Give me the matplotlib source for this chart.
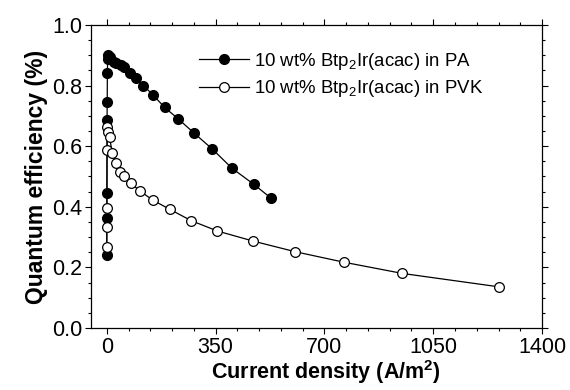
import matplotlib
matplotlib.use("Agg")
import matplotlib.pyplot as plt
from matplotlib.ticker import MultipleLocator

plt.rcParams["font.family"] = ["Liberation Sans", "DejaVu Sans"]
plt.rcParams["mathtext.fontset"] = "custom"
plt.rcParams["mathtext.rm"] = "Liberation Sans"
plt.rcParams["mathtext.bf"] = "Liberation Sans:bold"

# Dados
pa_current = [0.1, 0.3, 0.5, 1, 1.5, 2, 3, 5, 10, 23, 30, 45, 56, 75, 93,
              118, 149, 186, 230, 281, 339, 403, 473, 529]
pa_qe = [0.241, 0.363, 0.444, 0.686, 0.747, 0.840, 0.887, 0.900, 0.895, 0.879,
         0.873, 0.868, 0.862, 0.843, 0.824, 0.800, 0.769, 0.728, 0.690, 0.643,
         0.591, 0.527, 0.474, 0.428]

pvk_current = [0.1, 0.3, 0.5, 1, 2, 5, 9, 18, 29, 42, 56, 77, 107, 148, 202,
               272, 356, 470, 605, 763, 951, 1260]
pvk_qe = [0.268, 0.334, 0.396, 0.587, 0.664, 0.648, 0.629, 0.577, 0.543, 0.516,
          0.500, 0.478, 0.452, 0.422, 0.392, 0.354, 0.320, 0.287, 0.252, 0.217,
          0.180, 0.136]

labels = ["10 wt% Btp$_2$Ir(acac) in PA", "10 wt% Btp$_2$Ir(acac) in PVK"]

fig = plt.figure(figsize=(5.7, 3.9), dpi=100)
ax = fig.add_axes([0.160, 0.159, 0.791, 0.777])

ax.plot(pa_current, pa_qe, color="black", lw=0.9, marker="o", ms=7,
        mfc="black", mec="black", label=labels[0])
ax.plot(pvk_current, pvk_qe, color="black", lw=0.9, marker="o", ms=7,
        mfc="white", mec="black", mew=0.9, label=labels[1])

ax.set_xlim(-50, 1400)
ax.set_ylim(0, 1.0)
ax.xaxis.set_major_locator(MultipleLocator(350))
ax.xaxis.set_minor_locator(MultipleLocator(70))
ax.yaxis.set_major_locator(MultipleLocator(0.2))
ax.yaxis.set_minor_locator(MultipleLocator(0.05))
ax.yaxis.set_major_formatter(matplotlib.ticker.FormatStrFormatter("%.1f"))
ax.tick_params(which="both", direction="out", top=True, right=True,
               labelsize=15.5, width=0.8)
ax.tick_params(which="major", length=4, pad=2.5)
ax.tick_params(which="minor", length=2.5)
for s in ax.spines.values():
    s.set_linewidth(0.9)

ax.set_xlabel("Current density (A/m$^\\mathbf{2}$)", fontsize=15.5,
              fontweight="bold", labelpad=1)
ax.xaxis.set_label_coords(0.52, -0.1)
ax.set_ylabel("Quantum efficiency (%)", fontsize=16.5, fontweight="bold",
              labelpad=3)

ax.legend(loc="upper left", bbox_to_anchor=(0.218, 0.945), frameon=False,
          fontsize=13.4, handlelength=2.7, handletextpad=0.25,
          labelspacing=0.33, borderpad=0)

fig.savefig("out.png", dpi=100)
